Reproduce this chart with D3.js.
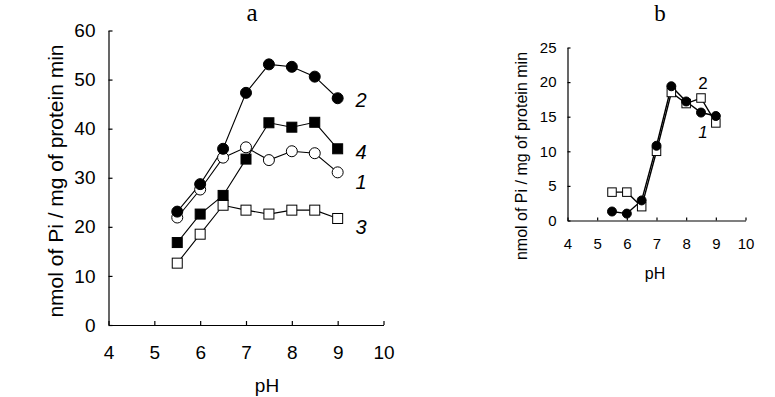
<!DOCTYPE html>
<html>
<head>
<meta charset="utf-8">
<script src="https://cdn.jsdelivr.net/npm/d3@7"></script>
<style>
body { margin: 0; background: #fff; }
svg { display: block; }
text { font-family: Arial, "Liberation Sans", sans-serif; fill: #000; }
.domain, .tick line { stroke: #000; stroke-width: 1.2px; }
</style>
</head>
<body>
<div id="container"></div>
<script>
var width = 775,
    height = 397;

// data
var ph = [5.5, 6, 6.5, 7, 7.5, 8, 8.5, 9];
var a1 = [21.9, 27.6, 34.1, 36.2, 33.6, 35.4, 35.0, 31.1];   // open circles
var a2 = [23.1, 28.7, 35.9, 47.3, 53.1, 52.6, 50.6, 46.2];   // filled circles
var a3 = [12.6, 18.5, 24.4, 23.4, 22.6, 23.4, 23.4, 21.7];   // open squares
var a4 = [16.8, 22.6, 26.4, 33.8, 41.2, 40.3, 41.3, 35.9];   // filled squares
var b1 = [1.3, 1.0, 2.9, 10.8, 19.4, 17.2, 15.6, 15.1];      // filled circles
var b2 = [4.1, 4.1, 2.0, 10.0, 18.5, 16.9, 17.7, 14.1];      // open squares
var x_ticks = [4, 5, 6, 7, 8, 9, 10];
var ya_ticks = [0, 10, 20, 30, 40, 50, 60];
var yb_ticks = [0, 5, 10, 15, 20, 25];
var yTitle = 'nmol of Pi / mg of protein min';

var svg = d3.select('#container')
    .append('svg')
    .attr('width', width)
    .attr('height', height)

svg.append('rect').attr('width', width).attr('height', height).attr('fill', '#fff')

function zip(xs, ys) {
    return xs.map(function (x, i) { return [x, ys[i]]; });
}

function panel(opt) {
    var g = svg.append('g')
    var sx = d3.scaleLinear().domain([4, 10]).range(opt.xr)
    var sy = d3.scaleLinear().domain(opt.yd).range(opt.yr)

    var x_axis = d3.axisBottom(sx).tickValues(x_ticks).tickFormat(d3.format('d'))
        .tickSizeInner(-opt.tick).tickSizeOuter(0).tickPadding(opt.xpad)
    var y_axis = d3.axisLeft(sy).tickValues(opt.yticks).tickFormat(d3.format('d'))
        .tickSizeInner(-opt.tick).tickSizeOuter(0).tickPadding(opt.ypad)

    g.append('g')
        .attr('transform', 'translate(0,' + opt.yr[0] + ')')
        .call(x_axis)
        .selectAll('text').style('font-size', opt.fs + 'px')
    g.append('g')
        .attr('transform', 'translate(' + opt.xr[0] + ',0)')
        .call(y_axis)
        .selectAll('text').style('font-size', opt.fs + 'px')

    var line = d3.line()
        .x(function (d) { return sx(d[0]); })
        .y(function (d) { return sy(d[1]); })

    opt.series.forEach(function (s) {
        g.append('path')
            .attr('d', line(zip(ph, s.values)))
            .attr('fill', 'none')
            .attr('stroke', '#000')
            .attr('stroke-width', opt.lw)
    })
    opt.series.forEach(function (s) {
        var pts = zip(ph, s.values)
        var fill = s.filled ? '#000' : '#fff'
        if (s.shape == 'circle') {
            g.selectAll(null).data(pts).enter().append('circle')
                .attr('cx', function (d) { return sx(d[0]); })
                .attr('cy', function (d) { return sy(d[1]); })
                .attr('r', opt.r)
                .attr('fill', fill).attr('stroke', '#000').attr('stroke-width', 1)
        } else {
            g.selectAll(null).data(pts).enter().append('rect')
                .attr('x', function (d) { return sx(d[0]) - opt.sq / 2; })
                .attr('y', function (d) { return sy(d[1]) - opt.sq / 2; })
                .attr('width', opt.sq).attr('height', opt.sq)
                .attr('fill', fill).attr('stroke', '#000').attr('stroke-width', 1)
        }
    })
    return { g: g, sx: sx, sy: sy };
}

// a
var pa = panel({
    xr: [108.5, 383.5], yd: [0, 60], yr: [325, 30.5], yticks: ya_ticks,
    tick: 4, xpad: 21, ypad: 13, fs: 19, lw: 1.1, r: 5.5, sq: 10,
    series: [
        { values: a3, shape: 'square', filled: false },
        { values: a4, shape: 'square', filled: true },
        { values: a1, shape: 'circle', filled: false },
        { values: a2, shape: 'circle', filled: true }
    ]
})
// b
var pb = panel({
    xr: [567.5, 745.5], yd: [0, 25], yr: [220.5, 47.5], yticks: yb_ticks,
    tick: 3, xpad: 18, ypad: 11, fs: 15, lw: 1.4, r: 4.5, sq: 8.5,
    series: [
        { values: b2, shape: 'square', filled: false },
        { values: b1, shape: 'circle', filled: true }
    ]
})

// titles
svg.append('text').text('a')
    .attr('x', 252).attr('y', 21)
    .attr('text-anchor', 'middle')
    .style('font-family', '"Liberation Serif", "Times New Roman", serif')
    .style('font-size', '25px')
svg.append('text').text('b')
    .attr('x', 660).attr('y', 21)
    .attr('text-anchor', 'middle')
    .style('font-family', '"Liberation Serif", "Times New Roman", serif')
    .style('font-size', '23px')

// axis titles
svg.append('text').text('pH')
    .attr('x', 267).attr('y', 392)
    .attr('text-anchor', 'middle').style('font-size', '19px')
svg.append('text').text('pH')
    .attr('x', 655).attr('y', 279)
    .attr('text-anchor', 'middle').style('font-size', '16px')
svg.append('text').text(yTitle)
    .attr('transform', 'translate(63,181) rotate(-90)')
    .attr('text-anchor', 'middle').style('font-size', '21px')
svg.append('text').text(yTitle)
    .attr('transform', 'translate(527,156) rotate(-90)')
    .attr('text-anchor', 'middle').style('font-size', '16px')

// series numbers
var labA = [['2', 100], ['4', 152], ['1', 182], ['3', 227]];
labA.forEach(function (d) {
    svg.append('text').text(d[0])
        .attr('x', 361).attr('y', d[1]).attr('dy', '0.35em')
        .attr('text-anchor', 'middle')
        .style('font-size', '20px').style('font-style', 'italic')
})
svg.append('text').text('2')
    .attr('x', 703).attr('y', 83).attr('dy', '0.35em')
    .attr('text-anchor', 'middle').style('font-size', '17px')
svg.append('text').text('1')
    .attr('x', 703).attr('y', 132).attr('dy', '0.35em')
    .attr('text-anchor', 'middle').style('font-size', '17px').style('font-style', 'italic')
</script>
</body>
</html>
